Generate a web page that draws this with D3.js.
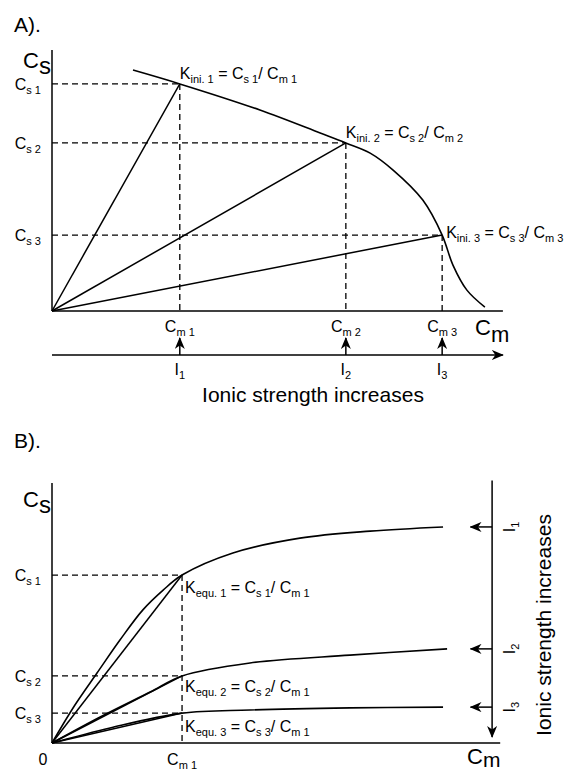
<!DOCTYPE html>
<html><head><meta charset="utf-8">
<script src="https://cdn.jsdelivr.net/npm/d3@7"></script>
<style>
html,body{margin:0;padding:0;background:#fff;}
svg text{font-family:"Liberation Sans",Arial,Helvetica,sans-serif;fill:#000;}
</style></head>
<body>
<svg id="chart" width="567" height="771"></svg>
<script>
// ---------- DATA (arbitrary units, 0-100) ----------
// Panel A: initial distribution constant curve
const curveA_x = [18.0, 28.4, 46.2, 59.6, 65.3, 70.7, 75.8, 82.4, 86.7, 89.1, 92.2, 96.2];
const curveA_y = [92.3, 87.0, 77.0, 68.2, 64.4, 60.5, 54.0, 42.5, 29.1, 17.6, 8.0, 1.5];
const pointsA_Cm = [28.4, 65.3, 86.7];
const pointsA_Cs = [87.0, 64.4, 29.1];
const indexLabels = ["1", "2", "3"];
const kLabelA = "ini.";
const kLabelB = "equ.";

// Panel B: equilibrium isotherms at three ionic strengths
const curveB1_x = [0, 5.1, 10.0, 15.1, 20.2, 24.7, 28.9, 40.2, 55.1, 70.7, 86.9];
const curveB1_y = [0, 14.6, 26.9, 39.6, 51.2, 58.8, 64.6, 73.1, 78.8, 81.5, 83.1];
const curveB2_x = [0, 10.7, 21.8, 28.9, 44.0, 66.2, 87.8];
const curveB2_y = [0, 10.0, 19.6, 25.8, 30.8, 33.8, 36.2];
const curveB3_x = [0, 12.9, 28.9, 44.0, 66.2, 86.9];
const curveB3_y = [0, 5.8, 11.5, 12.7, 13.5, 13.8];
const pointB_Cm1 = 28.9;
const pointsB_Cs = [64.6, 25.8, 11.5];

// ---------- SCALES ----------
const x = d3.scaleLinear().domain([0, 100]).range([52, 502]);
const yA = d3.scaleLinear().domain([0, 100]).range([311, 50]);
const yB = d3.scaleLinear().domain([0, 100]).range([743, 483]);

const svg = d3.select("#chart");
const FONT_MAIN = 16, FONT_SUB = 11;

// arrow marker
const defs = svg.append("defs");
defs.append("marker").attr("id", "arr").attr("viewBox", "0 0 12 10")
  .attr("refX", 11).attr("refY", 5).attr("markerWidth", 12).attr("markerHeight", 10)
  .attr("markerUnits", "userSpaceOnUse").attr("orient", "auto")
  .append("path").attr("d", "M0,0 L12,5 L0,10 L3.5,5 Z").attr("fill", "#000");

// rich text helper: parts = [[text, isSub]]
function rich(g, px, py, parts, opts = {}) {
  const t = g.append("text").attr("x", px).attr("y", py)
    .attr("text-anchor", opts.anchor || "start")
    .attr("font-size", opts.size || FONT_MAIN);
  if (opts.transform) t.attr("transform", opts.transform);
  let shifted = false;
  const sub = opts.sub || FONT_SUB, main = opts.size || FONT_MAIN, dsub = opts.dsub || 4;
  parts.forEach(([s, isSub]) => {
    const ts = t.append("tspan").text(s);
    if (isSub) { ts.attr("font-size", sub); if (!shifted) { ts.attr("dy", dsub); shifted = true; } }
    else { ts.attr("font-size", main); if (shifted) { ts.attr("dy", -dsub); shifted = false; } }
  });
  return t;
}

const lineGen = (sx, sy) => d3.line().x(d => sx(d[0])).y(d => sy(d[1])).curve(d3.curveCatmullRom.alpha(0.5));

// ================= PANEL A =================
const gA = svg.append("g");
gA.append("text").attr("x", 14).attr("y", 32).attr("font-size", 21).text("A).");

// axes
gA.append("line").attr("x1", x(0)).attr("y1", yA(0)).attr("x2", x(0)).attr("y2", yA(100))
  .attr("stroke", "#000").attr("stroke-width", 1.5);
gA.append("line").attr("x1", x(0)).attr("y1", yA(0)).attr("x2", x(100.2)).attr("y2", yA(0))
  .attr("stroke", "#000").attr("stroke-width", 1.5);

// dashed guides
pointsA_Cm.forEach((cm, i) => {
  const cs = pointsA_Cs[i];
  gA.append("line").attr("x1", x(0)).attr("x2", x(cm)).attr("y1", yA(cs)).attr("y2", yA(cs))
    .attr("stroke", "#000").attr("stroke-width", 1.3).attr("stroke-dasharray", "6,4");
  gA.append("line").attr("x1", x(cm)).attr("x2", x(cm)).attr("y1", yA(cs)).attr("y2", yA(0))
    .attr("stroke", "#000").attr("stroke-width", 1.3).attr("stroke-dasharray", "6,4");
  // straight line from origin
  gA.append("line").attr("x1", x(0)).attr("y1", yA(0)).attr("x2", x(cm)).attr("y2", yA(cs))
    .attr("stroke", "#000").attr("stroke-width", 1.5);
});

// main curve
gA.append("path").datum(curveA_x.map((v, i) => [v, curveA_y[i]]))
  .attr("d", lineGen(x, yA)).attr("fill", "none").attr("stroke", "#000").attr("stroke-width", 1.6);

// K labels
const kOffA = [[0, -5], [0, -5], [4, 3]];
pointsA_Cm.forEach((cm, i) => {
  const n = indexLabels[i];
  rich(gA, x(cm) + kOffA[i][0], yA(pointsA_Cs[i]) + kOffA[i][1],
    [["K", 0], [kLabelA + " " + n, 1], [" = C", 0], ["s " + n, 1], ["/ C", 0], ["m " + n, 1]]);
  // y tick labels
  rich(gA, 41, yA(pointsA_Cs[i]) + 6, [["C", 0], ["s " + n, 1]], { anchor: "end" });
  // x tick labels
  rich(gA, x(cm), 332, [["C", 0], ["m " + n, 1]], { anchor: "middle" });
  // ionic strength up arrows
  gA.append("line").attr("x1", x(cm)).attr("x2", x(cm)).attr("y1", 355).attr("y2", 338)
    .attr("stroke", "#000").attr("stroke-width", 1.5).attr("marker-end", "url(#arr)");
  rich(gA, x(cm), 375, [["I", 0], [n, 1]], { anchor: "middle" });
});

// axis names
rich(gA, 23, 68, [["C", 0], ["s", 1]], { size: 22, sub: 24, dsub: 6 });
rich(gA, 475, 335, [["C", 0], ["m", 1]], { size: 22, sub: 22, dsub: 7 });

// ionic strength axis
gA.append("line").attr("x1", x(0)).attr("x2", x(100.2)).attr("y1", 355).attr("y2", 355)
  .attr("stroke", "#000").attr("stroke-width", 1.5).attr("marker-end", "url(#arr)");
gA.append("text").attr("x", 313).attr("y", 402).attr("text-anchor", "middle").attr("font-size", 21)
  .text("Ionic strength increases");

// ================= PANEL B =================
const gB = svg.append("g");
gB.append("text").attr("x", 14).attr("y", 448).attr("font-size", 21).text("B).");

gB.append("line").attr("x1", x(0)).attr("y1", yB(0)).attr("x2", x(0)).attr("y2", yB(100))
  .attr("stroke", "#000").attr("stroke-width", 1.5);
gB.append("line").attr("x1", x(0)).attr("y1", yB(0)).attr("x2", x(99.6)).attr("y2", yB(0))
  .attr("stroke", "#000").attr("stroke-width", 1.5);

const curvesB = [[curveB1_x, curveB1_y], [curveB2_x, curveB2_y], [curveB3_x, curveB3_y]];

// vertical dashed at Cm1
gB.append("line").attr("x1", x(pointB_Cm1)).attr("x2", x(pointB_Cm1)).attr("y1", yB(pointsB_Cs[0])).attr("y2", yB(0))
  .attr("stroke", "#000").attr("stroke-width", 1.3).attr("stroke-dasharray", "6,4");

curvesB.forEach(([cx, cy], i) => {
  const cs = pointsB_Cs[i], n = indexLabels[i];
  gB.append("line").attr("x1", x(0)).attr("x2", x(pointB_Cm1)).attr("y1", yB(cs)).attr("y2", yB(cs))
    .attr("stroke", "#000").attr("stroke-width", 1.3).attr("stroke-dasharray", "6,4");
  gB.append("line").attr("x1", x(0)).attr("y1", yB(0)).attr("x2", x(pointB_Cm1)).attr("y2", yB(cs))
    .attr("stroke", "#000").attr("stroke-width", 1.5);
  gB.append("path").datum(cx.map((v, j) => [v, cy[j]]))
    .attr("d", lineGen(x, yB)).attr("fill", "none").attr("stroke", "#000").attr("stroke-width", 1.6);
  // K labels
  rich(gB, x(pointB_Cm1) + 3, [593, 692, 732][i],
    [["K", 0], [kLabelB + " " + n, 1], [" = C", 0], ["s " + n, 1], ["/ C", 0], ["m 1", 1]]);
  // y tick labels
  rich(gB, 41, yB(cs) + 6, [["C", 0], ["s " + n, 1]], { anchor: "end" });
  // ionic strength left arrows at plateau level
  const yEnd = cy[cy.length - 1];
  gB.append("line").attr("x1", x(97.8)).attr("x2", x(93)).attr("y1", yB(yEnd)).attr("y2", yB(yEnd))
    .attr("stroke", "#000").attr("stroke-width", 1.5).attr("marker-end", "url(#arr)");
  rich(gB, 0, 0, [["I", 0], [n, 1]], { anchor: "middle", transform: `translate(515,${yB(yEnd)}) rotate(-90)` });
});

// x tick labels
gB.append("text").attr("x", 43).attr("y", 765).attr("text-anchor", "middle").attr("font-size", FONT_MAIN).text("0");
rich(gB, x(pointB_Cm1), 765, [["C", 0], ["m 1", 1]], { anchor: "middle" });

// axis names
rich(gB, 23, 507, [["C", 0], ["s", 1]], { size: 22, sub: 24, dsub: 6 });
rich(gB, 467, 764, [["C", 0], ["m", 1]], { size: 22, sub: 21, dsub: 3 });

// vertical ionic strength axis
gB.append("line").attr("x1", x(97.8)).attr("x2", x(97.8)).attr("y1", yB(101)).attr("y2", yB(2.3))
  .attr("stroke", "#000").attr("stroke-width", 1.5).attr("marker-end", "url(#arr)");
gB.append("text").attr("transform", "translate(551,625) rotate(-90)").attr("text-anchor", "middle")
  .attr("font-size", 21).text("Ionic strength increases");
</script>
</body></html>
